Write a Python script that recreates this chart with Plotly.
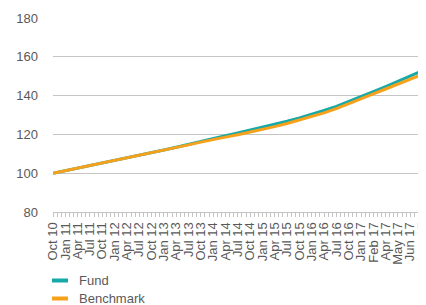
import plotly.graph_objects as go

labels = ["Oct 10", "Jan 11", "Apr 11", "Jul 11", "Oct 11", "Jan 12", "Apr 12", "Jul 12",
          "Oct 12", "Jan 13", "Apr 13", "Jul 13", "Oct 13", "Jan 14", "Apr 14", "Jul 14",
          "Oct 14", "Jan 15", "Apr 15", "Jul 15", "Oct 15", "Jan 16", "Apr 16", "Jul 16",
          "Oct 16", "Jan 17", "Feb 17", "Apr 17", "May 17", "Jun 17", "Aug 17", "Sep 17"]

fund = [100.0, 101.3, 102.6, 103.9, 105.2, 106.5, 107.9, 109.2, 110.6, 112.0, 113.4,
        114.8, 116.3, 117.8, 119.3, 120.8, 122.2, 123.7, 125.2, 126.8, 128.5, 130.3,
        132.3, 134.4, 136.8, 139.4, 142.0, 144.6, 147.3, 150.0, 152.8, 155.6]

benchmark = [100.0, 101.3, 102.6, 103.9, 105.2, 106.5, 107.9, 109.2, 110.6, 111.9, 113.3,
             114.6, 116.0, 117.4, 118.6, 119.8, 121.1, 122.5, 124.0, 125.6, 127.3, 129.1,
             131.1, 133.3, 135.7, 138.3, 140.9, 143.4, 145.8, 148.4, 151.0, 153.6]

y_ticks = [80, 100, 120, 140, 160, 180]

FUND_COLOR = "#17a9a8"
BENCH_COLOR = "#f7a11a"
TEXT = "#595959"
GRID = "#c4c4c4"

idx = list(range(len(labels)))

fig = go.Figure()
fig.add_trace(go.Scatter(x=idx, y=fund, mode="lines", name="Fund",
                         line=dict(color=FUND_COLOR, width=3), showlegend=False))
fig.add_trace(go.Scatter(x=idx, y=benchmark, mode="lines", name="Benchmark",
                         line=dict(color=BENCH_COLOR, width=3), showlegend=False))

# page body has an 8px margin: figure occupies screen 8..426 x 8..305
OFF = 8
L, T, B_px = 53 - OFF, 18 - OFF, 212 - OFF
W, H = 426 - OFF, 305 - OFF
plot_w = W - L
plot_h = B_px - T

def px_to_paper_x(sx):
    return (sx - OFF - L) / plot_w

def px_to_paper_y(sy):
    return (B_px - (sy - OFF)) / plot_h

# manual legend (screen coordinates)
for name, color, sy in [("Fund", FUND_COLOR, 280.5), ("Benchmark", BENCH_COLOR, 298.5)]:
    fig.add_shape(type="line", xref="paper", yref="paper",
                  x0=px_to_paper_x(52), x1=px_to_paper_x(68),
                  y0=px_to_paper_y(sy), y1=px_to_paper_y(sy),
                  line=dict(color=color, width=4))
    fig.add_annotation(xref="paper", yref="paper", x=px_to_paper_x(77), y=px_to_paper_y(sy),
                       text=name, showarrow=False, xanchor="left", yanchor="middle",
                       font=dict(family="Liberation Sans, Arial", size=13, color=TEXT))

fig.update_layout(
    width=W, height=H,
    margin=dict(l=L, r=0, t=T, b=H - B_px, pad=0, autoexpand=False),
    plot_bgcolor="white", paper_bgcolor="white",
    showlegend=False,
    font=dict(family="Liberation Sans, Arial", size=13, color=TEXT),
)

fig.update_xaxes(
    automargin=False,
    range=[0, plot_w / 12.32],
    tickmode="array", tickvals=idx, ticktext=labels,
    tickangle=-90,
    ticklabeloverflow="allow",
    tickfont=dict(size=13, color=TEXT),
    ticks="outside", ticklen=4, tickcolor=GRID, tickwidth=1,
    minor=dict(ticks="outside", tickmode="linear", tick0=0, dtick=1/3,
               ticklen=4, tickcolor=GRID, tickwidth=1, showgrid=False),
    showline=True, linecolor=GRID, linewidth=1,
    showgrid=False, zeroline=False,
)

fig.update_yaxes(
    automargin=False,
    range=[80, 180],
    tickmode="array", tickvals=y_ticks,
    tickfont=dict(size=13, color=TEXT),
    ticklabelstandoff=14,
    showgrid=True, gridcolor=GRID, gridwidth=1,
    showline=False, zeroline=False, ticks="",
)

fig.write_html("out.html")
